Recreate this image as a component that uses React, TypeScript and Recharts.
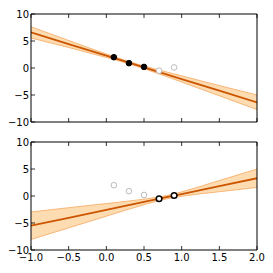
import React from 'react';
import { ComposedChart, XAxis, YAxis, Area, Line, Scatter } from 'recharts';

// top panel: fit on the first three points
const topX = [-1, -0.5, 0, 0.3, 0.5, 1, 1.5, 2];
const topMean = [6.6, 4.44, 2.28, 0.98, 0.12, -2.04, -4.2, -6.36];
const topHi = [7.65, 5.1, 2.6, 1.2, 0.37, -1.45, -3.25, -5.0];
const topLo = [5.55, 3.8, 1.95, 0.78, -0.13, -2.6, -5.15, -7.7];

// bottom panel: fit on the last two points
const botX = [-1, -0.5, 0, 0.5, 0.8, 1, 1.5, 2];
const botMean = [-5.5, -4.04, -2.57, -1.1, -0.23, 0.36, 1.83, 3.29];
const botHi = [-2.95, -2.17, -1.4, -0.58, 0.07, 0.77, 2.87, 4.99];
const botLo = [-8.05, -5.91, -3.74, -1.62, -0.53, -0.05, 0.79, 1.59];

const ptX = [0.1, 0.3, 0.5, 0.7, 0.9];
const ptY = [2.0, 0.9, 0.2, -0.5, 0.1];
const topUsed = [0, 1, 2];
const botUsed = [3, 4];

const xTicks = [-1, -0.5, 0, 0.5, 1, 1.5, 2];
const yTicks = [-10, -5, 0, 5, 10];

const LINE = '#cc5500';
const BAND = '#fddcb2';
const BAND_EDGE = '#f5a860';
const FONT = 'DejaVu Sans';

const fmt = (v: number, digits: number) =>
  (v < 0 ? '\u2212' : '') + Math.abs(v).toFixed(digits);

const build = (xs: number[], mean: number[], lo: number[], hi: number[]) =>
  xs.map((x, i) => ({ x, mean: mean[i], band: [lo[i], hi[i]] }));

const pts = (idx: number[]) => idx.map((i) => ({ x: ptX[i], y: ptY[i] }));
const rest = (idx: number[]) =>
  ptX.map((_, i) => i).filter((i) => !idx.includes(i)).map((i) => ({ x: ptX[i], y: ptY[i] }));

const BottomTick = (labels: boolean) => (p: any) => (
  <g>
    <line x1={p.x} y1={p.y} x2={p.x} y2={p.y - 4} stroke="#000" strokeWidth={0.8} />
    {labels && (
      <text x={p.x} y={p.y + 11} textAnchor="middle" fontSize={10} fontFamily={FONT} fill="#000">
        {fmt(p.payload.value, 1)}
      </text>
    )}
  </g>
);
const TopTick = (p: any) => (
  <line x1={p.x} y1={p.y} x2={p.x} y2={p.y + 4} stroke="#000" strokeWidth={0.8} />
);
const LeftTick = (p: any) => (
  <g>
    <line x1={p.x} y1={p.y} x2={p.x + 4} y2={p.y} stroke="#000" strokeWidth={0.8} />
    <text x={p.x - 2} y={p.y + 3.5} textAnchor="end" fontSize={10} fontFamily={FONT} fill="#000">
      {fmt(p.payload.value, 0)}
    </text>
  </g>
);
const RightTick = (p: any) => (
  <line x1={p.x} y1={p.y} x2={p.x - 4} y2={p.y} stroke="#000" strokeWidth={0.8} />
);

const dot = (fill: string, stroke: string, sw: number) => (p: any) => (
  <circle cx={p.cx} cy={p.cy} r={2.8} fill={fill} stroke={stroke} strokeWidth={sw} />
);

interface PanelProps {
  data: { x: number; mean: number; band: number[] }[];
  used: { x: number; y: number }[];
  others: { x: number; y: number }[];
  usedShape: (p: any) => React.ReactElement;
  showLabels: boolean;
  height: number;
  margin: { top: number; right: number; bottom: number; left: number };
}

const axisLine = { stroke: '#000', strokeWidth: 1 };

const Panel: React.FC<PanelProps> = ({ data, used, others, usedShape, showLabels, height, margin }) => (
  <ComposedChart width={273} height={height} data={data} margin={margin}>
    <XAxis
      dataKey="x"
      type="number"
      domain={[-1, 2]}
      ticks={xTicks}
      interval={0}
      allowDataOverflow
      height={showLabels ? 23 : 1}
      tickSize={0}
      tickMargin={0}
      tickLine={false}
      tick={BottomTick(showLabels)}
      axisLine={axisLine}
    />
    <XAxis
      xAxisId="top"
      orientation="top"
      dataKey="x"
      type="number"
      domain={[-1, 2]}
      ticks={xTicks}
      interval={0}
      height={1}
      tickSize={0}
      tickMargin={0}
      tickLine={false}
      tick={TopTick}
      axisLine={axisLine}
    />
    <YAxis
      type="number"
      domain={[-10, 10]}
      ticks={yTicks}
      interval={0}
      allowDataOverflow
      width={31}
      tickSize={0}
      tickMargin={0}
      tickLine={false}
      tick={LeftTick}
      axisLine={axisLine}
    />
    <YAxis
      yAxisId="right"
      orientation="right"
      type="number"
      domain={[-10, 10]}
      ticks={yTicks}
      interval={0}
      width={1}
      tickSize={0}
      tickMargin={0}
      tickLine={false}
      tick={RightTick}
      axisLine={axisLine}
    />
    <Area
      dataKey="band"
      type="monotone"
      fill={BAND}
      fillOpacity={1}
      stroke={BAND_EDGE}
      strokeWidth={0.8}
      isAnimationActive={false}
    />
    <Line
      dataKey="mean"
      type="linear"
      stroke={LINE}
      strokeWidth={1.8}
      dot={false}
      isAnimationActive={false}
    />
    <Scatter data={others} dataKey="y" shape={dot('#fff', '#bbbbbb', 1)} isAnimationActive={false} />
    <Scatter data={used} dataKey="y" shape={usedShape} isAnimationActive={false} />
  </ComposedChart>
);

export default function App() {
  return (
    <div style={{ position: 'absolute', left: 0, top: 0, width: 273, height: 273, background: '#fff' }}>
      <Panel
        data={build(topX, topMean, topLo, topHi)}
        used={pts(topUsed)}
        others={rest(topUsed)}
        usedShape={dot('#000', '#000', 1)}
        showLabels={false}
        height={130}
        margin={{ top: 13, right: 15, bottom: 7, left: 0 }}
      />
      <Panel
        data={build(botX, botMean, botLo, botHi)}
        used={pts(botUsed)}
        others={rest(botUsed)}
        usedShape={dot('#fff', '#000', 1.5)}
        showLabels={true}
        height={143}
        margin={{ top: 11, right: 15, bottom: 0, left: 0 }}
      />
    </div>
  );
}
